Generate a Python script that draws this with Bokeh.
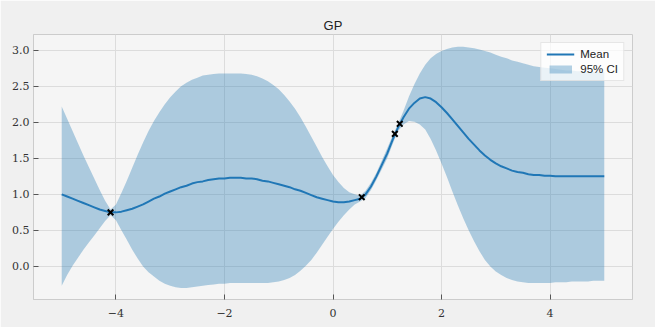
from bokeh.plotting import figure
from bokeh.models import ColumnDataSource, FixedTicker, Range1d, Legend, LegendItem
from bokeh.embed import file_html
from bokeh.resources import INLINE

# Inputs at which the GP posterior is shown (-5 .. 5, step 0.1)
grid_x = [round(-5.0 + 0.1 * i, 1) for i in range(101)]

# Posterior mean
mean = [1.00, 0.97, 0.94, 0.91, 0.88, 0.85, 0.82, 0.79, 0.77, 0.75,
        0.75, 0.76, 0.78, 0.80, 0.83, 0.86, 0.90, 0.94, 0.97, 1.01,
        1.04, 1.07, 1.10, 1.12, 1.15, 1.17, 1.18, 1.20, 1.21, 1.22,
        1.22, 1.23, 1.23, 1.23, 1.22, 1.22, 1.21, 1.19, 1.18, 1.16,
        1.14, 1.12, 1.10, 1.07, 1.05, 1.02, 0.99, 0.96, 0.94, 0.92,
        0.90, 0.89, 0.89, 0.90, 0.92, 0.94, 1.00, 1.11, 1.25, 1.41,
        1.57, 1.76, 1.93, 2.07, 2.19, 2.27, 2.33, 2.35, 2.33, 2.28,
        2.21, 2.13, 2.04, 1.95, 1.86, 1.77, 1.69, 1.61, 1.54, 1.48,
        1.43, 1.39, 1.36, 1.33, 1.31, 1.30, 1.28, 1.27, 1.27, 1.26,
        1.26, 1.25, 1.25, 1.25, 1.25, 1.25, 1.25, 1.25, 1.25, 1.25, 1.25]

# Upper and lower edges of the 95% confidence region
upper = [2.22, 2.05, 1.88, 1.71, 1.54, 1.38, 1.22, 1.06, 0.91, 0.79,
         0.86, 1.02, 1.19, 1.37, 1.55, 1.72, 1.88, 2.02, 2.14, 2.25,
         2.35, 2.43, 2.50, 2.55, 2.59, 2.62, 2.65, 2.66, 2.67, 2.68,
         2.68, 2.68, 2.68, 2.68, 2.67, 2.66, 2.64, 2.61, 2.57, 2.52,
         2.46, 2.38, 2.29, 2.19, 2.07, 1.94, 1.80, 1.66, 1.52, 1.39,
         1.27, 1.17, 1.09, 1.03, 1.00, 0.98, 1.05, 1.16, 1.30, 1.47,
         1.64, 1.82, 1.98, 2.16, 2.36, 2.53, 2.68, 2.80, 2.89, 2.95,
         2.99, 3.02, 3.04, 3.05, 3.05, 3.04, 3.03, 3.01, 2.99, 2.97,
         2.94, 2.91, 2.89, 2.86, 2.84, 2.82, 2.80, 2.78, 2.77, 2.76,
         2.75, 2.74, 2.73, 2.72, 2.72, 2.71, 2.71, 2.70, 2.70, 2.70, 2.70]
lower = [-0.27, -0.12, 0.01, 0.12, 0.23, 0.33, 0.43, 0.53, 0.63, 0.71,
         0.64, 0.50, 0.37, 0.23, 0.11, 0.00, -0.08, -0.14, -0.20, -0.24,
         -0.27, -0.29, -0.30, -0.30, -0.29, -0.28, -0.27, -0.26, -0.25, -0.24,
         -0.24, -0.23, -0.23, -0.23, -0.23, -0.23, -0.23, -0.23, -0.23, -0.22,
         -0.21, -0.19, -0.16, -0.12, -0.06, 0.01, 0.09, 0.19, 0.30, 0.41,
         0.52, 0.62, 0.71, 0.79, 0.86, 0.90, 0.95, 1.06, 1.20, 1.35,
         1.50, 1.70, 1.88, 1.97, 2.02, 2.01, 1.97, 1.90, 1.77, 1.61,
         1.43, 1.24, 1.04, 0.85, 0.67, 0.50, 0.35, 0.21, 0.09, 0.00,
         -0.07, -0.12, -0.16, -0.19, -0.21, -0.22, -0.23, -0.23, -0.23, -0.23,
         -0.23, -0.22, -0.22, -0.22, -0.21, -0.21, -0.21, -0.21, -0.20, -0.20, -0.20]

# Training observations
train_x = [-4.1, 0.53, 1.14, 1.23]
train_y = [0.75, 0.96, 1.84, 1.98]

x_ticks = [-4, -2, 0, 2, 4]
x_tick_labels = ["\u22124", "\u22122", "0", "2", "4"]
y_ticks = [0.0, 0.5, 1.0, 1.5, 2.0, 2.5, 3.0]
y_tick_labels = ["0.0", "0.5", "1.0", "1.5", "2.0", "2.5", "3.0"]

src = ColumnDataSource(dict(x=grid_x, mean=mean, upper=upper, lower=lower))
obs = ColumnDataSource(dict(x=train_x, y=train_y))

p = figure(width=655, height=327, output_backend="svg", toolbar_location=None,
           x_range=Range1d(-5.52, 5.52), y_range=Range1d(-0.46, 3.22),
           min_border_left=33, min_border_right=23, min_border_top=34,
           min_border_bottom=28, title="GP")

p.border_fill_color = "#f0f0f0"
p.background_fill_color = "#f5f5f5"
p.outline_line_color = "#cccccc"
p.outline_line_width = 1

p.title.align = "center"
p.title.text_font = "Liberation Sans"
p.title.text_font_size = "13px"
p.title.text_font_style = "normal"
p.title.text_color = "#222222"
p.title.standoff = 3

band = p.varea(x="x", y1="lower", y2="upper", source=src,
               fill_color="#1f77b4", fill_alpha=0.34)
line = p.line(x="x", y="mean", source=src, line_color="#2077b6", line_width=2)
p.scatter(x="x", y="y", source=obs, marker="x", size=8,
          line_color="black", line_width=2)

for ax, ticks, labels in ((p.xaxis, x_ticks, x_tick_labels),
                          (p.yaxis, y_ticks, y_tick_labels)):
    ax.ticker = FixedTicker(ticks=ticks)
    ax.major_label_overrides = {t: l for t, l in zip(ticks, labels)}
    ax.minor_tick_line_color = None
    ax.major_tick_in = 5
    ax.major_tick_out = 0
    ax.major_tick_line_color = "#555555"
    ax.axis_line_color = "#cccccc"
    ax.major_label_text_font = "DejaVu Serif"
    ax.major_label_text_font_size = "11px"
    ax.major_label_text_color = "#333333"

p.xaxis.major_label_standoff = 9
p.yaxis.major_label_standoff = 4

p.grid.grid_line_color = "#dcdcdc"
p.grid.grid_line_width = 1

legend = Legend(items=[LegendItem(label="Mean", renderers=[line]),
                       LegendItem(label="95% CI", renderers=[band])],
                location="top_right")
legend.margin = 8
legend.padding = 5
legend.spacing = 3
legend.glyph_width = 28
legend.glyph_height = 10
legend.label_text_font = "Liberation Sans"
legend.label_text_font_size = "11.5px"
legend.label_text_color = "#222222"
legend.background_fill_color = "white"
legend.background_fill_alpha = 0.75
legend.border_line_color = "#d0d0d0"
legend.label_standoff = 6
p.add_layout(legend)

open("out.html", "w").write(file_html(p, INLINE))
